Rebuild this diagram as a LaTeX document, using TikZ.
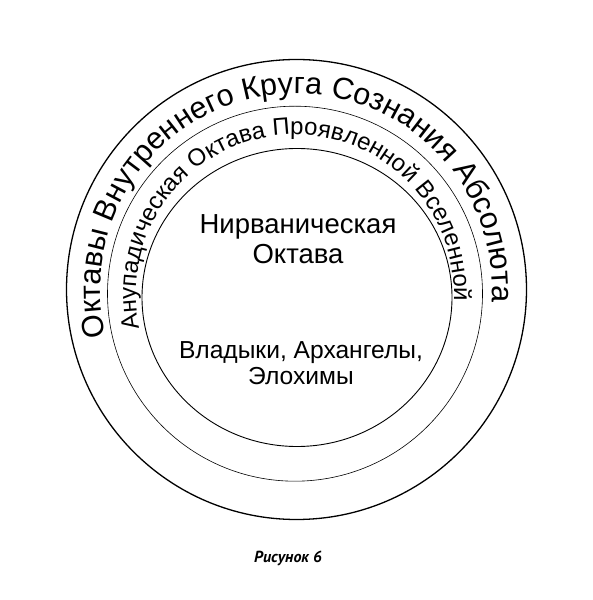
\documentclass[tikz,border=0pt]{standalone}
\usepackage{fontspec}
\setmainfont{Liberation Sans}
\newfontfamily\capfont{PT Sans}
\usetikzlibrary{decorations.text}
\begin{document}
\begin{tikzpicture}[x=1pt, y=1pt,
	ring/.style={draw=black, fill=none},
	label/.style={align=center, anchor=base, text=black},
	arctext/.style={decorate, decoration={text along path, text align={center}}}]
	\useasboundingbox (0,0) rectangle (593,600);

	\draw[ring, line width=1.3pt] (296.5,310.5) circle[radius=230];
	\draw[ring, line width=0.6pt] (295,306.3) circle[radius=187.5];
	\draw[ring, line width=0.9pt] (297,302.5) ellipse[x radius=155, y radius=149];

	\path[arctext, decoration={text={|\fontsize{30.5}{34}\selectfont|Октавы Внутреннего Круга Сознания Абсолюта}}]
		(296.5,310.5) ++(205:196) arc[start angle=205, end angle=-15, radius=196];
	\path[arctext, decoration={text={|\fontsize{24}{28}\selectfont|Анупадическая Октава Проявленной Вселенной}}]
		(295,306.3) ++(206:159) arc[start angle=206, end angle=-16, radius=159];

	\node[label, font=\fontsize{27.5}{30}\selectfont] (nirv) at (298,336.7) {Нирваническая\\Октава};
	\node[label, font=\fontsize{24.6}{26}\selectfont] (vlad) at (301,215) {Владыки, Архангелы,\\Элохимы};
	\node[label, font=\capfont\bfseries\itshape\fontsize{16}{18}\selectfont] (fig) at (288,37.7) {Рисунок 6};
\end{tikzpicture}
\end{document}
